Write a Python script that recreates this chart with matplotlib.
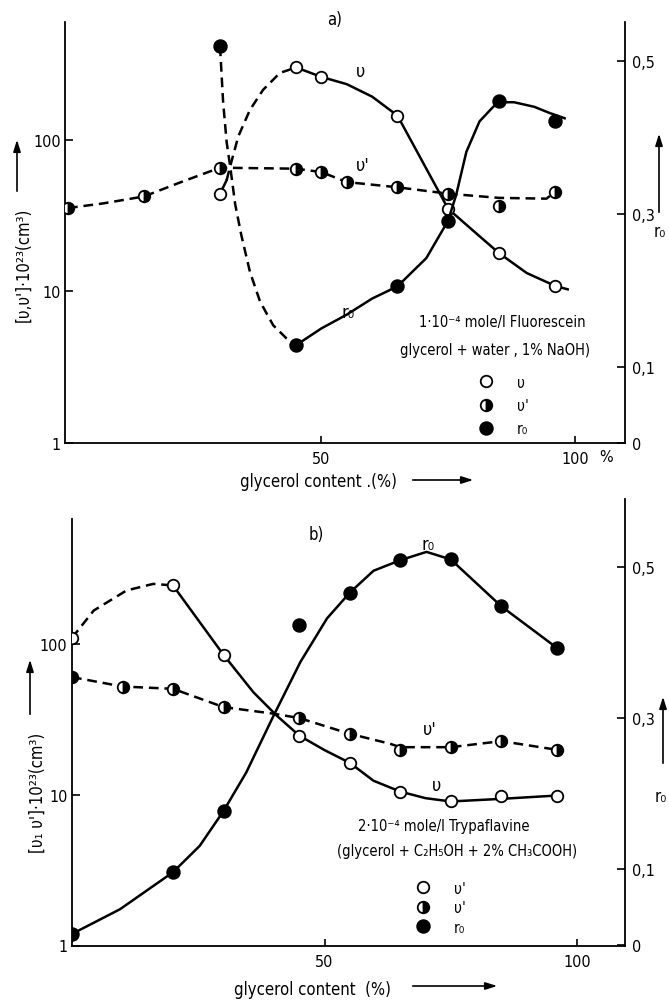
import matplotlib
matplotlib.use('Agg')
import matplotlib.pyplot as plt
from matplotlib.lines import Line2D

plt.rcParams['font.family'] = ['DejaVu Sans']
plt.rcParams['font.stretch'] = 'condensed'
plt.rcParams['lines.scale_dashes'] = False

# ---------------- data: panel a (Fluorescein) ----------------
a_v_x = [30, 45, 50, 65, 75, 85, 96]
a_v_y = [44, 299, 259, 144, 35, 17.9, 10.9]
a_vp_x = [0, 15, 30, 45, 50, 55, 65, 75, 85, 96]
a_vp_y = [35.4, 42.2, 65.3, 64.3, 61.1, 52.5, 48.5, 44, 36.3, 44.9]
a_r_x = [30, 45, 65, 75, 85, 96]
a_r_y = [0.519, 0.128, 0.205, 0.291, 0.448, 0.421]

# hand-drawn curves
a_v_tail_x = [30, 31.3]
a_v_tail_y = [44, 54]
a_v_dash_x = [31.3, 32, 33.6, 35.9, 38.5, 41.8, 45]
a_v_dash_y = [54, 66.6, 105, 157, 213, 275, 299]
a_v_solid_x = [45, 50, 55, 60, 65, 70, 75, 80, 85, 90.5, 96, 98.6]
a_v_solid_y = [299, 259, 232, 192, 144, 71, 35, 25, 17.9, 13.2, 10.9, 10.3]
a_vp_curve_x = [0, 7, 15, 22, 30, 45, 50, 55, 65, 75, 85, 94.4, 96]
a_vp_curve_y = [35.4, 38, 42.2, 52, 65.3, 64.3, 61.1, 52.5, 48.5, 44, 41.3, 40.8, 44.9]
a_r_dash_x = [30, 30.6, 31.3, 32, 33, 34.2, 35.9, 37.9, 40.5, 43.1, 45]
a_r_dash_y = [0.519, 0.447, 0.394, 0.362, 0.312, 0.272, 0.224, 0.185, 0.154, 0.137, 0.128]
a_r_solid_x = [45, 50, 55, 60, 65, 70.7, 75, 76.6, 78.6, 81.2, 83.9, 85, 88, 92, 95, 98]
a_r_solid_y = [0.128, 0.150, 0.168, 0.189, 0.205, 0.242, 0.291, 0.325, 0.381, 0.421,
               0.440, 0.446, 0.446, 0.440, 0.432, 0.425]

# ---------------- data: panel b (Trypaflavine) ----------------
b_v_x = [0, 20, 30, 45, 55, 65, 75, 85, 96]
b_v_y = [110, 245, 84.9, 24.7, 16.3, 10.5, 9.03, 9.75, 9.89]
b_vp_x = [0, 10, 20, 30, 45, 55, 65, 75, 85, 96]
b_vp_y = [60.4, 52.3, 50.5, 38.2, 32.3, 25.4, 19.9, 20.7, 22.7, 19.9]
b_r_x = [0, 20, 30, 45, 55, 65, 75, 85, 96]
b_r_y = [0.0143, 0.096, 0.177, 0.423, 0.466, 0.509, 0.510, 0.448, 0.393]

b_v_dash_x = [0, 4.3, 10.8, 16.1, 20]
b_v_dash_y = [110, 167, 227, 251, 245]
b_v_solid_x = [20, 30, 35.9, 40.5, 45, 50, 55, 59.7, 65, 70, 75, 85, 96]
b_v_solid_y = [245, 84.9, 48, 33.6, 24.7, 19.8, 16.3, 12.4, 10.5, 9.5, 9.03, 9.4, 9.89]
b_vp_curve_x = [0, 10, 20, 30, 40, 45, 55, 63, 65, 75, 85, 96]
b_vp_curve_y = [60.4, 52.3, 50.5, 38.2, 34.5, 32.3, 25.4, 21.8, 20.7, 20.7, 22.7, 19.9]
b_r_curve_x = [0, 9.5, 20, 25.3, 30, 34.5, 39.9, 45.2, 50.5, 55, 59.7, 65, 70.2, 75, 85, 96]
b_r_curve_y = [0.0143, 0.047, 0.096, 0.131, 0.177, 0.228, 0.303, 0.374, 0.432, 0.466,
               0.495, 0.509, 0.520, 0.510, 0.448, 0.393]

left_ticks = [1, 10, 100]
left_labels = ['1', '10', '100']
right_ticks = [0, 0.1, 0.3, 0.5]
right_labels = ['0', '0,1', '0,3', '0,5']
x_ticks = [50, 100]
x_labels = ['50', '100']

W, H = 669, 1004
fig = plt.figure(figsize=(W / 100, H / 100), dpi=100)


def rect(l, t, r, b):
    return [l / W, 1 - b / H, (r - l) / W, (b - t) / H]


def fp(x, y):
    return (x / W, 1 - y / H)


LW = 1.8
DASH = (0, (7, 4.2))
MS = 8.3
MEW = 1.3
FS = 11.5
FS_NOTE = 10.5


def style_axes(ax, ax2, xlim, ylim, r_lim, left_top=None):
    ax.set_yscale('log')
    ax.set_xlim(*xlim)
    ax.set_ylim(*ylim)
    ax2.set_ylim(*r_lim)
    for s in ['top', 'right']:
        ax.spines[s].set_visible(False)
    for s in ['top', 'left', 'bottom']:
        ax2.spines[s].set_visible(False)
    for s in ['left', 'bottom']:
        ax.spines[s].set_linewidth(1.3)
    ax2.spines['right'].set_linewidth(1.3)
    if left_top is not None:
        ax.spines['left'].set_bounds(ylim[0], left_top)
    ax.set_yticks(left_ticks)
    ax.set_yticklabels(left_labels)
    ax.yaxis.set_minor_locator(plt.NullLocator())
    ax.set_xticks(x_ticks)
    ax.set_xticklabels(x_labels)
    ax.tick_params(axis='y', direction='in', length=6, width=1.2, pad=3, labelsize=FS)
    ax.tick_params(axis='x', direction='in', length=5, width=1.2, pad=6, labelsize=FS)
    ax2.set_yticks(right_ticks)
    ax2.set_yticklabels(right_labels)
    ax2.tick_params(axis='y', direction='in', length=6, width=1.2, pad=5, labelsize=FS)
    ax.patch.set_visible(False)


def open_marker(ax, x, y):
    ax.plot(x, y, ls='none', marker='o', ms=MS, mfc='white', mec='black', mew=MEW, zorder=5)


def half_marker(ax, x, y):
    ax.plot(x, y, ls='none', marker='o', ms=MS, fillstyle='right', mfc='black',
            mfcalt='white', mec='black', mew=MEW, zorder=5)


def full_marker(ax, x, y):
    ax.plot(x, y, ls='none', marker='o', ms=MS + 0.8, mfc='black', mec='black', mew=MEW, zorder=5)


# ================= panel a =================
ax = fig.add_axes(rect(65, 23, 625, 444))
ax2 = ax.twinx()
style_axes(ax, ax2, (-0.59, 109.9), (1, 596), (0, 0.551))

ax.plot(a_v_tail_x, a_v_tail_y, color='black', lw=LW)
ax.plot(a_v_dash_x, a_v_dash_y, color='black', lw=LW, ls=DASH)
ax.plot(a_v_solid_x, a_v_solid_y, color='black', lw=LW)
ax.plot(a_vp_curve_x, a_vp_curve_y, color='black', lw=LW, ls=DASH)
open_marker(ax, a_v_x, a_v_y)
half_marker(ax, a_vp_x, a_vp_y)
ax2.plot(a_r_dash_x, a_r_dash_y, color='black', lw=LW, ls=DASH)
ax2.plot(a_r_solid_x, a_r_solid_y, color='black', lw=LW)
full_marker(ax2, a_r_x, a_r_y)

# ================= panel b =================
bx = fig.add_axes(rect(71.7, 500, 625, 946.5))
bx2 = bx.twinx()
style_axes(bx, bx2, (-0.06, 109.5), (1, 918), (-0.001, 0.590), left_top=678)

bx.plot(b_v_dash_x, b_v_dash_y, color='black', lw=LW, ls=DASH)
bx.plot(b_v_solid_x, b_v_solid_y, color='black', lw=LW)
bx.plot(b_vp_curve_x, b_vp_curve_y, color='black', lw=LW, ls=DASH)
open_marker(bx, b_v_x, b_v_y)
half_marker(bx, b_vp_x, b_vp_y)
bx2.plot(b_r_curve_x, b_r_curve_y, color='black', lw=LW)
full_marker(bx2, b_r_x, b_r_y)


# ================= texts =================
def ftext(x, y, s, **kw):
    kw.setdefault('fontsize', FS)
    kw.setdefault('ha', 'center')
    kw.setdefault('va', 'center')
    fig.text(*fp(x, y), s, **kw)


def farrow(x0, y0, x1, y1):
    fig.add_artist(matplotlib.patches.FancyArrowPatch(
        fp(x0, y0), fp(x1, y1), transform=fig.transFigure,
        arrowstyle='-|>,head_length=7,head_width=2.2', mutation_scale=1,
        color='black', lw=1.2))


# panel a
ftext(335, 20, 'a)', fontsize=12)
ftext(361, 72, 'υ', fontsize=13)
ftext(363, 166, "υ'", fontsize=13)
ftext(348, 313, 'r₀', fontsize=13)
ftext(502, 323, '1·10⁻⁴ mole/l Fluorescein', fontsize=FS_NOTE)
ftext(495, 350, 'glycerol + water , 1% NaOH)', fontsize=FS_NOTE)
ftext(606, 457, '%')
ftext(318, 482, 'glycerol content .(%)', fontsize=12)
farrow(410, 481, 476, 481)
ftext(23, 265, "[υ,υ']·10²³(cm³)", rotation=90, fontsize=12)
farrow(17, 195, 17, 138)
ftext(660, 232, 'r₀', fontsize=12)
farrow(659, 216, 659, 132)

# panel b
ftext(316, 535, 'b)', fontsize=12)
ftext(428, 545, 'r₀', fontsize=13)
ftext(430, 730, "υ'", fontsize=13)
ftext(437, 786, 'υ', fontsize=13)
ftext(444, 827, '2·10⁻⁴ mole/l Trypaflavine', fontsize=FS_NOTE)
ftext(457, 852, '(glycerol + C₂H₅OH + 2% CH₃COOH)', fontsize=FS_NOTE)
ftext(313, 990, 'glycerol content  (%)', fontsize=12)
farrow(410, 987, 500, 987)
ftext(38, 793, "[υ₁ υ']·10²³(cm³)", rotation=90, fontsize=12)
farrow(30, 718, 30, 658)
ftext(661, 797, 'r₀', fontsize=12)
farrow(663, 767, 663, 695)

# legends
hv = Line2D([], [], ls='none', marker='o', ms=MS, mfc='white', mec='black', mew=MEW)
hvp = Line2D([], [], ls='none', marker='o', ms=MS, fillstyle='right', mfc='black',
             mfcalt='white', mec='black', mew=MEW)
hr = Line2D([], [], ls='none', marker='o', ms=MS + 0.8, mfc='black', mec='black', mew=MEW)

fig.legend([hv, hvp, hr], ['υ', "υ'", 'r₀'], loc='upper left',
           bbox_to_anchor=fp(471, 368), frameon=False, fontsize=11,
           handlelength=1.0, handletextpad=1.5, labelspacing=0.55, borderpad=0)
fig.legend([hv, hvp, hr], ["υ'", "υ'", 'r₀'], loc='upper left',
           bbox_to_anchor=fp(408, 874), frameon=False, fontsize=11,
           handlelength=1.0, handletextpad=1.5, labelspacing=0.3, borderpad=0)

fig.savefig('out.png', dpi=100, facecolor='white')
